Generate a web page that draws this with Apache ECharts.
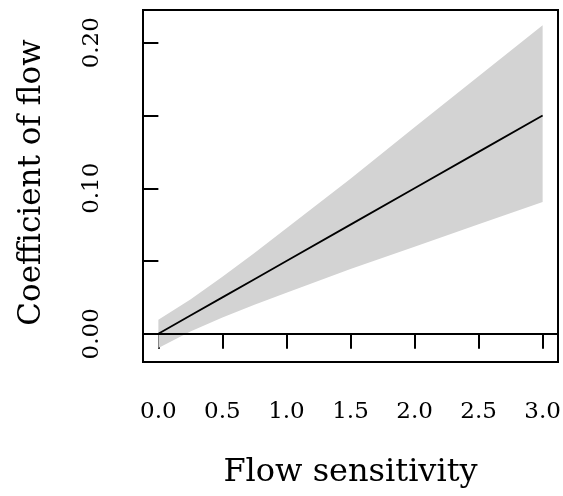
<!DOCTYPE html>
<html>
<head>
<meta charset="utf-8">
<script src="https://cdn.jsdelivr.net/npm/echarts@6/dist/echarts.min.js"></script>
<style>html,body{margin:0;padding:0;background:#fff}#c{width:563px;height:496px}</style>
</head>
<body>
<div id="c"></div>
<script>
var xs = [0, 0.25, 0.5, 0.75, 1.0, 1.5, 2.0, 2.5, 3.0];
var fit = [0, 0.0125, 0.025, 0.0375, 0.05, 0.075, 0.10, 0.125, 0.15];
var upper = [0.0097, 0.0235, 0.0391, 0.0555, 0.0726, 0.1065, 0.1419, 0.1769, 0.212];
var lower = [-0.0097, 0.0016, 0.0112, 0.0199, 0.0282, 0.0445, 0.0598, 0.0752, 0.0906];
var xTicks = [0, 0.5, 1.0, 1.5, 2.0, 2.5, 3.0];
var yTicks = [0, 0.05, 0.10, 0.15, 0.20];
var yLabels = [0, 0.10, 0.20];

var font = 'DejaVu Serif';
var bandData = xs.map(function (x, i) { return [x, lower[i], upper[i]]; });
var chart = echarts.init(document.getElementById('c'), null, {renderer: 'canvas'});
chart.setOption({
  animation: false,
  grid: {left: 143, right: 5, top: 10, bottom: 134, show: true, borderColor: '#000', borderWidth: 2,
    backgroundColor: 'transparent', outerBoundsMode: 'none', containLabel: false},
  xAxis: {
    type: 'value', min: -0.12, max: 3.12,
    splitLine: {show: false},
    axisLine: {show: false},
    axisTick: {show: true, inside: false, length: 15, lineStyle: {color: '#000', width: 2}, customValues: xTicks},
    axisLabel: {customValues: xTicks, color: '#000', fontFamily: font, fontSize: 23, margin: 39,
      formatter: function (v) { return v.toFixed(1); }},
    name: 'Flow sensitivity', nameLocation: 'middle', nameGap: 95,
    nameTextStyle: {fontFamily: font, fontSize: 32, color: '#000'}
  },
  yAxis: {
    type: 'value', min: -0.0194, max: 0.2225,
    splitLine: {show: false},
    axisLine: {show: false},
    axisTick: {show: true, inside: false, length: 15, lineStyle: {color: '#000', width: 2}, customValues: yTicks},
    axisLabel: {customValues: yLabels, color: '#000', fontFamily: font, fontSize: 23, rotate: 90, margin: 39,
      formatter: function (v) { return v.toFixed(2); }},
    name: 'Coefficient of flow', nameLocation: 'middle', nameGap: 96,
    nameTextStyle: {fontFamily: font, fontSize: 31, color: '#000', padding: [0, 0, 0, 7]}
  },
  series: [
    {type: 'custom', silent: true, data: bandData, z: 1,
      renderItem: function (params, api) {
        if (params.dataIndex !== 0) return null;
        var top = [], bot = [];
        for (var i = 0; i < bandData.length; i++) {
          top.push(api.coord([bandData[i][0], bandData[i][2]]));
          bot.unshift(api.coord([bandData[i][0], bandData[i][1]]));
        }
        return {type: 'polygon', shape: {points: top.concat(bot)}, style: {fill: '#d3d3d3', stroke: null}};
      }},
    {type: 'line', data: xs.map(function (x, i) { return [x, fit[i]]; }), symbol: 'none', z: 3,
      lineStyle: {color: '#000', width: 1.8},
      markLine: {silent: true, symbol: 'none', label: {show: false}, lineStyle: {color: '#000', width: 1.8, type: 'solid'},
        data: [{yAxis: 0}]}}
  ]
});
</script>
</body>
</html>
